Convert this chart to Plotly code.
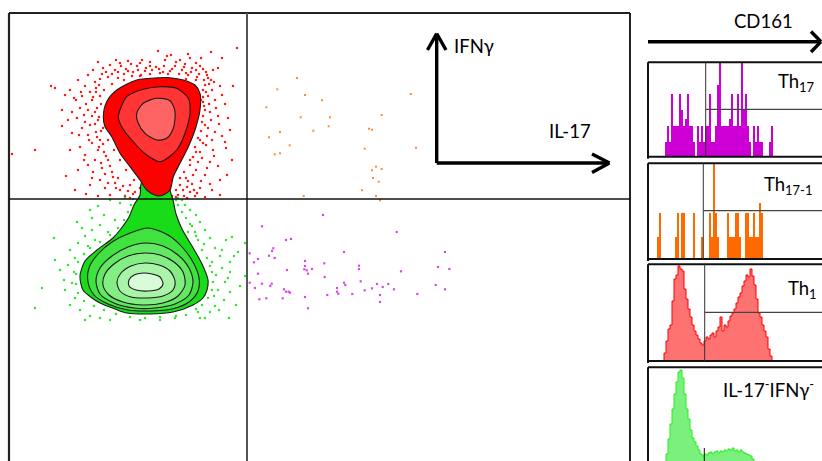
import plotly.graph_objects as go

W, H = 822, 461
FONT = "Lato"

# ---------------- main dot plot (IL-17 on x, IFNγ on y; plot units) ----------------
red_outer_x = [160, 136.7, 116.7, 106.7, 103.3, 105, 111.7, 120, 130, 140, 146.7, 156.7, 163.3, 170, 173.3, 180, 188.3, 195, 200, 200, 195, 183.3, 170, 160]
red_outer_y = [77.7, 80, 90, 101.7, 116.7, 126.7, 136.7, 153.3, 166.7, 180, 190, 195.7, 195, 190, 176.7, 163.3, 146.7, 130, 110, 93.3, 85, 80, 77.7, 77.7]
red_mid_x = [120, 126.7, 143.3, 160, 176.7, 188.3, 190, 185, 176.7, 160, 146.7, 131.7, 121.7, 118.3, 120]
red_mid_y = [110, 96.7, 89.3, 86.7, 88.3, 98.3, 113.3, 133.3, 150, 161.7, 155, 140, 126.7, 116.7, 110]
red_in_x = [136.7, 143.3, 156.7, 170, 175, 173.3, 166.7, 156.7, 145, 138.3, 136.7]
red_in_y = [113.3, 103.3, 98.3, 100.7, 111.7, 128.3, 138.3, 140, 133.3, 123.3, 113.3]

green_outer_x = [142, 140, 134, 129, 120, 113, 97, 85, 80, 83, 92, 100, 115, 127, 150, 173, 193, 203, 207, 208, 202, 192, 182, 176, 173, 170, 170, 142]
green_outer_y = [182, 195, 205, 217, 230, 238, 250, 261, 276, 290, 298, 303, 309, 313, 314, 312, 305, 298, 290, 280, 264, 246, 229, 214, 200, 190, 182, 182]
green_a_x = [148, 130, 112, 98, 89, 88, 94, 108, 128, 150, 172, 189, 198, 199, 194, 183, 168, 148]
green_a_y = [228, 233, 242, 254, 268, 282, 295, 304, 310, 311, 309, 302, 291, 278, 264, 248, 235, 228]
green_b_x = [146, 128, 112, 100, 96, 100, 114, 134, 155, 175, 189, 193, 189, 178, 163, 146]
green_b_y = [243, 247, 256, 268, 281, 294, 303, 308, 308, 304, 295, 282, 268, 255, 246, 243]
green_c_x = [145, 128, 114, 105, 103, 109, 123, 143, 163, 178, 185, 183, 174, 160, 145]
green_c_y = [253, 256, 264, 274, 285, 295, 302, 305, 303, 296, 285, 272, 262, 255, 253]
green_d_x = [145, 131, 121, 117, 120, 131, 147, 163, 173, 175, 170, 159, 145]
green_d_y = [263, 266, 273, 282, 291, 297, 298, 296, 290, 281, 271, 265, 263]
green_e_x = [143, 134, 129, 129, 136, 148, 159, 163, 160, 152, 143]
green_e_y = [273, 275, 280, 286, 290, 291, 289, 284, 277, 274, 273]

red_dots_x = [237, 211, 222, 158, 171, 180, 190, 196, 185, 176, 165, 150, 140, 131, 121, 110, 98, 103, 93, 88, 115, 128, 138, 146, 156, 164, 172, 182, 192, 200, 206, 213, 218, 208, 199, 188, 179, 168, 160, 150, 141, 132, 124, 118, 108, 100, 95, 85, 78, 70, 65, 74, 82, 90, 96, 55, 51,
              92, 86, 80, 72, 62, 68, 77, 84, 95, 98, 90, 82, 62, 72, 88, 96, 100, 92, 80, 70, 85, 98, 104, 95, 88, 78, 93, 102, 108, 112, 100, 90, 105, 115, 120, 110, 98, 125, 130, 118, 86, 12, 35, 75, 66,
              205, 212, 220, 233, 208, 215, 225, 204, 210, 218, 228, 202, 208, 215, 222, 200, 206, 213, 226, 196, 202, 210, 218, 190, 196, 205, 227, 186, 192, 200, 212, 180, 176, 184, 195, 205, 172, 220, 165, 150, 140, 190, 203, 198, 212, 219, 230, 232,
              104, 100, 112, 124, 140, 186, 196, 203, 201, 103, 108, 114, 120, 126, 134, 182, 189, 195, 176, 172,
              112, 118, 126, 133, 137, 145, 152, 159, 163, 170, 175, 184, 191, 196, 203, 207, 211, 197, 186, 150, 142, 128, 116, 106, 102, 120, 167, 188, 201,
              99, 96, 93, 101, 97, 92, 99, 95, 101, 97, 103, 99, 106, 101, 110, 105, 113, 108, 116, 123, 128, 133, 88, 85, 89, 84, 92, 79, 76, 81,
              204, 209, 206, 203, 209, 205, 203, 211, 205, 201, 207, 198, 203, 195, 200, 193, 198, 190, 193, 184, 188, 180, 178, 183, 187, 194, 201, 207, 214, 216, 222, 214, 225, 220, 210,
              135, 140, 145, 152, 168, 176, 158, 130, 187, 197]
red_dots_y = [48, 52, 58, 51, 55, 60, 58, 63, 64, 62, 60, 62, 63, 64, 66, 65, 62, 68, 70, 75, 70, 71, 70, 68, 67, 66, 69, 70, 68, 66, 72, 70, 68, 78, 74, 75, 74, 74, 73, 74, 75, 76, 74, 78, 77, 79, 82, 86, 80, 90, 95, 98, 96, 92, 88, 88, 86,
              100, 104, 108, 112, 110, 120, 118, 115, 112, 120, 125, 128, 126, 133, 135, 132, 140, 143, 147, 150, 155, 150, 152, 160, 165, 170, 172, 168, 160, 172, 180, 185, 188, 183, 190, 195, 196, 196, 185, 178, 194, 154, 150, 190, 176,
              85, 90, 86, 86, 96, 100, 104, 106, 112, 116, 118, 122, 128, 132, 136, 140, 145, 150, 148, 152, 158, 162, 166, 165, 170, 175, 175, 178, 184, 188, 190, 185, 190, 196, 196, 197, 196, 195, 198, 197, 198, 192, 102, 115, 140, 124, 130, 160,
              90, 96, 84, 80, 76, 79, 80, 90, 100, 128, 140, 150, 160, 170, 180, 150, 142, 128, 166, 180,
              74, 72, 69, 72, 66, 71, 70, 69, 72, 71, 66, 67, 72, 70, 69, 75, 80, 77, 73, 66, 60, 61, 60, 72, 74, 63, 56, 54, 58,
              85, 92, 97, 104, 108, 116, 117, 124, 131, 137, 144, 147, 156, 163, 166, 174, 177, 183, 188, 186, 191, 194, 110, 122, 140, 160, 178, 135, 100, 92,
              80, 84, 92, 97, 104, 110, 116, 120, 125, 131, 136, 138, 143, 147, 152, 157, 162, 160, 175, 172, 181, 178, 195, 190, 187, 190, 181, 168, 156, 108, 95, 82, 142, 180, 184,
              192, 188, 196, 198, 193, 197, 198, 198, 198, 193]

green_dots_x = [110, 120, 98, 90, 104, 115, 100, 92, 85, 78, 88, 95, 108, 70, 75, 68, 60, 55, 72, 65, 75, 70, 80, 90, 85, 100, 110, 42, 35, 54, 77, 185, 190, 196, 200, 192, 205, 210, 204, 215, 220, 212, 222, 216, 225, 218, 230, 224, 215, 210, 205, 230, 238, 245, 247, 245, 236, 200, 175, 170, 178, 182, 125, 140, 160, 232, 188, 196, 76, 64, 82, 92, 230, 214, 198,
                178, 182, 186, 190, 195, 198, 202, 207, 210, 212, 213, 212, 208, 202, 196, 186, 176, 160, 145, 130, 116, 104, 94, 84, 78, 76, 74, 78, 84, 90, 100, 110, 118, 124, 128, 131, 133, 176, 226, 234, 222, 228, 240, 219, 229]
green_dots_y = [200, 203, 206, 210, 215, 220, 225, 230, 236, 243, 246, 240, 232, 250, 258, 265, 270, 260, 283, 290, 298, 305, 310, 316, 320, 318, 320, 288, 308, 238, 222, 205, 210, 215, 222, 226, 230, 238, 244, 248, 256, 262, 268, 275, 282, 290, 292, 300, 306, 312, 318, 262, 252, 243, 253, 276, 305, 318, 318, 200, 198, 200, 198, 320, 320, 237, 232, 236, 274, 280, 228, 218, 272, 296, 312,
                205, 212, 218, 224, 232, 240, 250, 258, 266, 272, 282, 290, 298, 305, 309, 315, 316, 317, 318, 317, 314, 310, 306, 301, 293, 284, 272, 262, 254, 248, 242, 235, 228, 220, 212, 205, 199, 200, 240, 256, 250, 278, 286, 310, 318]

il17_ifng_x = [323, 262, 396.7, 286, 291, 273.3, 272, 344, 445, 249.7, 269, 274.7, 258, 305, 254, 324.3, 359, 305, 438, 287, 304.3, 306.7, 312, 359, 449.3, 401, 258, 308, 324.7, 360.7, 249.7, 262, 271.7, 344, 377, 388.3, 345.3, 270.3, 435.7, 382.7, 255, 337, 372, 394, 445, 284, 286, 288.7, 290, 337, 364.7, 338.3, 352.3, 380, 417.3, 327.3, 259.3, 266.3, 282.7, 305, 380, 308]
il17_ifng_y = [215, 226.3, 232, 240, 239, 248.3, 251, 252, 252, 253.3, 255.7, 258, 259, 261, 262.3, 263.3, 265.7, 266, 267, 270, 269.3, 270.3, 269, 269, 269, 271.3, 273.7, 273.7, 277, 281.3, 282.7, 283.7, 283.7, 282.7, 284, 284, 285, 286, 285, 287, 288, 288, 288.3, 289.3, 289.3, 289.3, 291.7, 291.7, 292.7, 291.7, 290.3, 293.7, 294, 295, 294, 295, 299.3, 298.3, 298.3, 297, 302, 308.3]
il17p_ifngp_x = [297, 277.3, 305, 322, 410.7, 266.3, 300.7, 330, 381.7, 328.7, 369, 372, 280, 313.3, 269, 289.7, 364.7, 416, 274.7, 280, 376, 372, 381.7, 373, 378.7, 362, 303.7, 376, 380]
il17p_ifngp_y = [78, 89.3, 95, 100.3, 94, 107.3, 117.3, 117.3, 115, 126.3, 128.7, 129.7, 132, 130.7, 137.3, 145.3, 148.7, 147.7, 154.3, 153.3, 166.7, 170.3, 169, 178, 181.7, 190.3, 196, 196, 200.3]

# ---------------- CD161 histograms (channel, events) ----------------
th17_x = [666 + 2 * i for i in range(54)]
th17_y = [14, 30, 14, 62, 30, 30, 30, 62, 46, 30, 37, 62, 30, 30, 14, 0, 30, 14, 30, 14, 30, 30, 62, 14, 14, 30, 71, 93, 30, 30, 30, 30, 37, 62, 30, 30, 62, 30, 93, 46, 62, 30, 14, 0, 30, 14, 30, 14, 14, 0, 0, 0, 14, 30]
th171_x = [658 + 2 * i for i in range(53)]
th171_y = [22, 46, 0, 0, 0, 0, 0, 0, 0, 22, 46, 0, 46, 46, 0, 0, 0, 0, 46, 0, 0, 0, 22, 0, 0, 0, 46, 22, 95, 46, 22, 0, 0, 0, 0, 46, 22, 22, 22, 46, 46, 22, 0, 0, 46, 46, 22, 22, 46, 22, 22, 56, 46]
th1_x = [662 + 2 * i for i in range(56)]
th1_y = [0, 8, 20, 32, 36, 60, 82, 86, 95, 92, 90, 72, 62, 52, 44, 36, 30, 26, 22, 18, 16, 20, 24, 22, 26, 28, 24, 30, 34, 44, 30, 36, 34, 40, 45, 48, 52, 58, 64, 68, 75, 80, 86, 84, 92, 85, 76, 62, 48, 44, 36, 30, 24, 12, 5, 0]
dn_x = [664 + 2 * i for i in range(46)]
dn_y = [0, 10, 25, 40, 55, 70, 82, 92, 94, 86, 70, 55, 45, 34, 26, 22, 18, 14, 10, 8, 10, 9, 11, 12, 10, 12, 13, 11, 13, 12, 14, 13, 15, 14, 16, 13, 14, 12, 14, 12, 11, 10, 9, 8, 5, 0]

fig = go.Figure()

def dots(x, y, color, size=2.2):
    fig.add_trace(go.Scatter(x=x, y=y, mode="markers", xaxis="x", yaxis="y",
                             marker=dict(color=color, size=size, symbol="square", line=dict(width=0)),
                             hoverinfo="skip", showlegend=False))

def blob(x, y, fill):
    fig.add_trace(go.Scatter(x=x, y=y, mode="lines", fill="toself", fillcolor=fill, xaxis="x", yaxis="y",
                             line=dict(color="#1a1a1a", width=1.1, shape="spline", smoothing=0.8),
                             hoverinfo="skip", showlegend=False))

dots(red_dots_x, red_dots_y, "#ff1a1a")
dots(green_dots_x, green_dots_y, "#2ee82e")
dots(il17_ifng_x, il17_ifng_y, "#dd44ee")
dots(il17p_ifngp_x, il17p_ifngp_y, "#ff8a3a", 2.0)

blob(green_outer_x, green_outer_y, "#18dc18")
blob(green_a_x, green_a_y, "#3fe23f")
blob(green_b_x, green_b_y, "#62e862")
blob(green_c_x, green_c_y, "#84ee84")
blob(green_d_x, green_d_y, "#aaf4aa")
blob(green_e_x, green_e_y, "#d8fcd8")
blob(red_outer_x, red_outer_y, "#ff0000")
blob(red_mid_x, red_mid_y, "#ff3434")
blob(red_in_x, red_in_y, "#ff6464")

# histogram panels: (top px, bottom px)
panels = [(62.3, 156.7), (163.3, 259.0), (264.3, 361.0), (367.3, 464.0)]

def bars(x, y, n, light, dark):
    fig.add_trace(go.Bar(x=x, y=y, width=1.5, marker=dict(color=light, line=dict(width=0)),
                         xaxis="x%d" % n, yaxis="y%d" % n, hoverinfo="skip", showlegend=False))
    fig.add_trace(go.Bar(x=x, y=y, width=0.7, marker=dict(color=dark, line=dict(width=0)),
                         xaxis="x%d" % n, yaxis="y%d" % n, hoverinfo="skip", showlegend=False))

def area(x, y, n, fill, line):
    fig.add_trace(go.Scatter(x=x, y=y, mode="lines", fill="tozeroy", fillcolor=fill,
                             line=dict(color=line, width=1, shape="hv"),
                             xaxis="x%d" % n, yaxis="y%d" % n, hoverinfo="skip", showlegend=False))

bars(th17_x, th17_y, 2, "#ea9cf0", "#cc00d4")
bars(th171_x, th171_y, 3, "#ffb88a", "#ff6a00")
area(th1_x, th1_y, 4, "#ff7272", "#ff0000")
area(dn_x, dn_y, 5, "#7cf07c", "#22ee22")

layout = dict(
    width=W, height=H, margin=dict(l=0, r=0, t=0, b=0),
    paper_bgcolor="white", plot_bgcolor="rgba(0,0,0,0)", barmode="overlay", bargap=0,
    xaxis=dict(domain=[0, 1], range=[0, W], visible=False, fixedrange=True),
    yaxis=dict(domain=[0, 1], range=[H, 0], visible=False, fixedrange=True),
)
for k, (top, bot) in enumerate(panels):
    n = k + 2
    d0 = max(0.0, (H - bot) / H)
    d1 = (H - top) / H
    lo = 0 if bot <= H else bot - H
    layout["xaxis%d" % n] = dict(domain=[648 / W, 1], range=[648, W], visible=False, anchor="y%d" % n, fixedrange=True)
    layout["yaxis%d" % n] = dict(domain=[d0, d1], range=[lo, bot - top], visible=False, anchor="x%d" % n, fixedrange=True)
fig.update_layout(**layout)

def line(x0, y0, x1, y1, color="black", width=1.0):
    fig.add_shape(type="line", x0=x0, y0=y0, x1=x1, y1=y1, xref="x", yref="y",
                  line=dict(color=color, width=width), layer="above")

# main frame and quadrant lines
line(9, 13, 630, 13, "#222", 2)
line(9, 13, 9, 470, "#222", 2.2)
line(630, 13, 630, 470, "#222", 2)
line(247, 13, 247, 470, "#555", 2)
line(9, 199, 630, 199, "#111", 1.4)

# panel frames and gates
for top, bot in panels:
    line(648, top, 830, top, "#111", 2)
    line(648, top, 648, bot + 2, "#111", 2)
    line(648, bot, 830, bot, "#111", 2)
gates = [(705.7, 109.3), (703.3, 210.7), (704.7, 312.3)]
for (top, bot), (gx, gy) in zip(panels[:3], gates):
    line(gx, top, gx, bot, "#333", 1)
    line(gx, gy, 830, gy, "#444", 1.2)
line(704.3, 448, 704.3, 466, "#111", 1)

# axis arrows
AW = 3.4
line(436.7, 163, 436.7, 34, "black", AW)
line(436.7, 163, 609, 163, "black", AW)
line(427.5, 50, 436.7, 33.5, "black", AW)
line(446, 50, 436.7, 33.5, "black", AW)
line(592, 154, 609.5, 163, "black", AW)
line(592, 172.5, 609.5, 163, "black", AW)
line(648, 41.7, 820, 41.7, "black", AW)
line(811, 31.5, 821, 41.7, "black", AW)
line(811, 52, 821, 41.7, "black", AW)

def label(text, x, y, anchor="left", size=18.5):
    fig.add_annotation(text=text, x=x, y=y, xref="x", yref="y", xanchor=anchor, yanchor="middle",
                       showarrow=False, font=dict(family=FONT, size=size, color="black"))

label("IFNγ", 452, 46)
label("IL-17", 570, 131, "center")
label("CD161", 763, 21, "center")
label("Th<sub>17</sub>", 775.5, 82)
label("Th<sub>17-1</sub>", 762, 185)
label("Th<sub>1</sub>", 785.5, 289)
label("IL-17<sup>-</sup>IFNγ<sup>-</sup>", 720.5, 388)

fig.write_html("out.html")
